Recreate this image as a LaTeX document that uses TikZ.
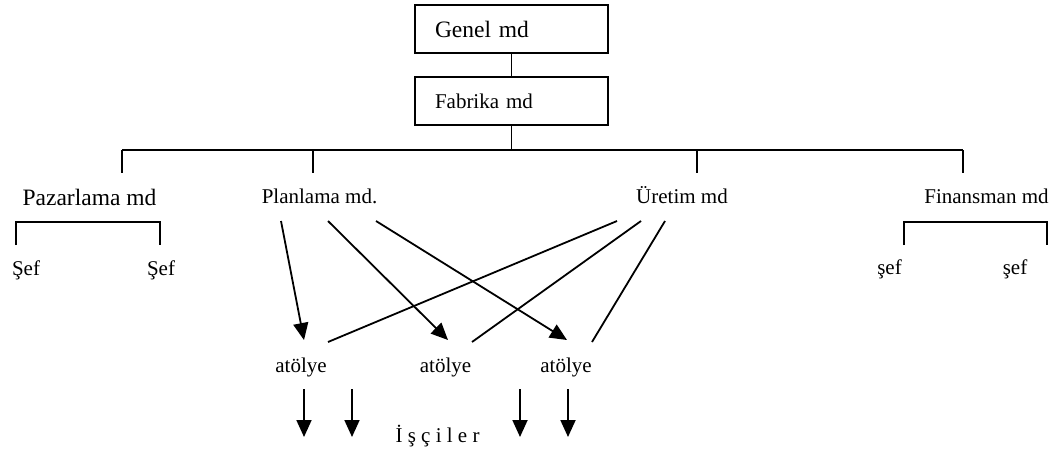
\documentclass[tikz,border=0pt]{standalone}
\usepackage{fontspec}
\setmainfont{Liberation Serif}
\usetikzlibrary{arrows.meta}
\begin{document}
\begin{tikzpicture}[x=1pt,y=-1pt,
  line width=1.8pt,
  big/.style={font=\fontsize{23.5}{27}\selectfont},
  norm/.style={font=\fontsize{21}{25}\selectfont},
  lbl/.style={norm,anchor=base,inner sep=0pt},
  blbl/.style={big,anchor=base,inner sep=0pt},
  topbox/.style={draw,rectangle,minimum height=48pt,text width=153pt,inner xsep=20pt,inner ysep=0pt,align=left},
  arr/.style={-{Triangle[length=17pt,width=15pt]}}
]
\useasboundingbox (0,0) rectangle (1054,448);

% top boxes
\node[topbox,big] (genel) at (511.5,29) {Genel md};
\node[topbox,norm] (fabrika) at (511.5,101) {Fabrika md};
\draw (genel) -- (fabrika);

% bus
\coordinate (bus) at (511.5,150);
\coordinate (b1) at (122,150);
\coordinate (b4) at (963,150);
\coordinate (d1) at (122,173);
\coordinate (d2) at (313,173);
\coordinate (d3) at (697,173);
\coordinate (d4) at (963,173);
\draw (fabrika.south) -- (bus);
\draw (b1) -- (b4);
\draw (b1) -- (d1);
\draw (d2 |- bus) -- (d2);
\draw (d3 |- bus) -- (d3);
\draw (b4) -- (d4);

% department nodes
\node[blbl] (pazarlama) at (89.5,205) {Pazarlama md};
\node[lbl] (planlama) at (319.5,203) {Planlama md.};
\node[lbl] (uretim) at (682,203) {Üretim md};
\node[lbl] (finansman) at (986.5,203) {Finansman md};

% chiefs
\node[lbl] (sef1) at (26,275) {Şef};
\node[lbl] (sef2) at (161,275) {Şef};
\node[lbl] (sef3) at (889.5,274) {şef};
\node[lbl] (sef4) at (1015,274) {şef};

\coordinate (pb1) at (16,245);
\coordinate (pb2) at (16,222);
\coordinate (pb3) at (160,222);
\coordinate (pb4) at (160,245);
\draw (pb1) -- (pb2) -- (pb3) -- (pb4);
\coordinate (fb1) at (904,245);
\coordinate (fb2) at (904,222);
\coordinate (fb3) at (1047,222);
\coordinate (fb4) at (1047,245);
\draw (fb1) -- (fb2) -- (fb3) -- (fb4);

% workshops
\node[lbl] (at1) at (301,372) {atölye};
\node[lbl] (at2) at (445.5,372) {atölye};
\node[lbl] (at3) at (566,372) {atölye};

% planning arrows
\coordinate (p1) at (281,221);
\coordinate (p2) at (328,221);
\coordinate (p3) at (376,221);
\coordinate (t1) at (304,340);
\coordinate (t2) at (448,340);
\coordinate (t3) at (567,340);
\draw[arr] (p1) -- (t1);
\draw[arr] (p2) -- (t2);
\draw[arr] (p3) -- (t3);

% production lines
\coordinate (u1) at (617,221);
\coordinate (u2) at (641,221);
\coordinate (u3) at (665,221);
\coordinate (w1) at (328,342);
\coordinate (w2) at (472,342);
\coordinate (w3) at (592,342);
\draw (w1) -- (u1);
\draw (w2) -- (u2);
\draw (w3) -- (u3);

% workers
\node[lbl] (isciler) at (437.5,442) {İ ş ç i l e r};
\coordinate (a1) at (304,389);
\coordinate (a2) at (352,389);
\coordinate (a3) at (520,389);
\coordinate (a4) at (568,389);
\coordinate (e1) at (304,437);
\coordinate (e2) at (352,437);
\coordinate (e3) at (520,437);
\coordinate (e4) at (568,437);
\draw[arr] (a1) -- (e1);
\draw[arr] (a2) -- (e2);
\draw[arr] (a3) -- (e3);
\draw[arr] (a4) -- (e4);
\end{tikzpicture}
\end{document}
